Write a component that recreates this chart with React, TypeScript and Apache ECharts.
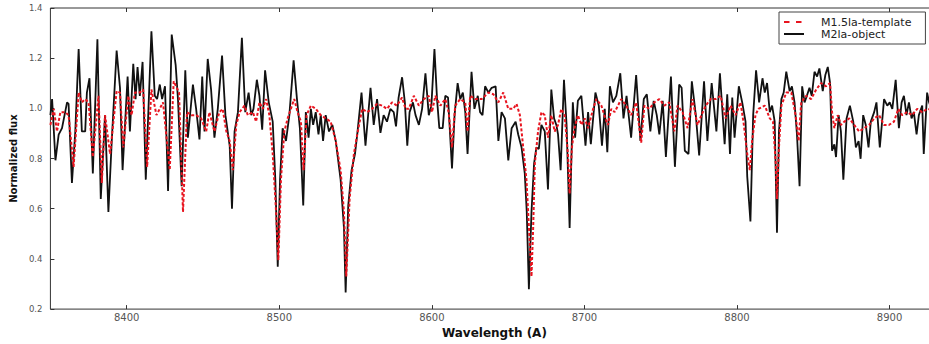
import { useEffect, useRef } from "react";
import * as echarts from "echarts";

// Wavelength (Angstrom) / normalized flux pairs for each spectrum.
const objectSpectrum: [number, number][] = [
  [8350.0, 0.973], [8351.1, 1.037], [8353.3, 0.793], [8355.4, 0.895], [8357.6, 0.921], [8360.9, 1.024],
  [8361.9, 1.018], [8364.1, 0.703], [8366.3, 0.908], [8368.5, 1.236], [8370.6, 0.908], [8372.8, 0.908],
  [8373.9, 1.063], [8375.6, 1.12], [8377.8, 0.741], [8380.8, 1.275], [8383.0, 0.639], [8385.8, 0.973],
  [8388.0, 0.587], [8390.2, 0.87], [8393.4, 1.23], [8395.6, 1.082], [8397.3, 0.754], [8400.6, 1.127],
  [8402.1, 0.908], [8404.3, 1.178], [8405.8, 1.037], [8407.1, 1.165], [8408.6, 1.05], [8410.4, 1.185],
  [8412.5, 0.716], [8416.2, 1.307], [8418.4, 1.05], [8419.9, 1.037], [8421.7, 1.095], [8423.2, 1.037],
  [8425.1, 1.088], [8427.1, 0.671], [8429.5, 1.294], [8432.1, 1.172], [8433.6, 1.037], [8436.0, 0.69],
  [8438.4, 1.152], [8440.1, 0.883], [8443.4, 1.095], [8445.5, 0.998], [8447.7, 0.876], [8449.5, 1.127],
  [8451.0, 0.908], [8453.1, 1.197], [8455.3, 1.075], [8457.5, 0.883], [8459.7, 0.998], [8462.5, 1.21],
  [8464.7, 0.973], [8467.5, 0.851], [8469.0, 0.6], [8470.7, 0.908], [8472.9, 0.985], [8475.5, 1.281],
  [8477.7, 0.985], [8479.9, 1.063], [8481.6, 0.973], [8483.1, 0.998], [8485.3, 1.114], [8487.0, 1.05],
  [8488.8, 0.915], [8490.7, 1.152], [8493.1, 1.024], [8495.7, 0.947], [8497.4, 0.716], [8499.0, 0.369],
  [8500.5, 0.716], [8502.2, 0.921], [8504.4, 0.87], [8506.6, 0.973], [8509.4, 1.191], [8511.6, 1.037],
  [8513.5, 0.921], [8515.7, 0.613], [8517.4, 0.985], [8519.2, 0.883], [8520.7, 0.998], [8522.2, 0.934],
  [8523.9, 0.985], [8525.7, 0.896], [8527.2, 0.973], [8528.7, 0.87], [8530.4, 0.973], [8532.6, 0.908],
  [8534.8, 0.934], [8537.0, 0.87], [8540.2, 0.716], [8542.4, 0.523], [8543.5, 0.266], [8545.2, 0.613],
  [8547.4, 0.754], [8549.6, 0.818], [8551.1, 0.896], [8553.9, 1.063], [8556.5, 0.851], [8559.8, 1.082],
  [8561.9, 0.934], [8564.1, 1.037], [8566.3, 0.902], [8568.4, 0.973], [8570.6, 0.947], [8572.8, 0.998],
  [8575.0, 0.985], [8576.5, 0.928], [8578.2, 1.043], [8580.5, 1.124], [8582.3, 1.024], [8583.9, 0.851],
  [8585.4, 0.985], [8587.6, 1.024], [8589.3, 0.973], [8591.5, 0.934], [8593.6, 0.998], [8595.8, 1.14],
  [8598.0, 0.973], [8599.7, 1.011], [8601.7, 1.236], [8603.4, 1.037], [8604.9, 0.921], [8607.1, 0.921],
  [8608.8, 1.05], [8610.6, 1.043], [8613.2, 0.761], [8614.9, 0.973], [8616.9, 1.101], [8618.6, 1.037],
  [8620.3, 1.063], [8621.9, 0.985], [8623.4, 0.818], [8626.0, 1.146], [8627.9, 0.998], [8630.1, 1.05],
  [8631.6, 0.985], [8633.2, 0.973], [8634.9, 1.088], [8637.1, 1.063], [8639.2, 1.082], [8641.8, 1.088],
  [8643.6, 0.87], [8645.7, 0.985], [8647.9, 0.96], [8650.1, 0.793], [8652.3, 0.921], [8654.9, 0.947],
  [8656.6, 0.896], [8658.8, 0.844], [8660.9, 0.741], [8662.2, 0.587], [8663.6, 0.279], [8665.3, 0.587],
  [8667.0, 0.78], [8668.5, 0.844], [8670.1, 0.838], [8671.8, 0.934], [8674.0, 0.908], [8676.1, 0.677],
  [8678.3, 1.075], [8680.1, 0.96], [8681.6, 0.934], [8682.7, 0.896], [8684.4, 0.754], [8686.6, 1.114],
  [8688.3, 0.934], [8690.3, 0.523], [8692.4, 1.024], [8693.9, 0.883], [8695.7, 1.03], [8698.0, 1.05],
  [8700.7, 0.851], [8702.4, 0.985], [8704.2, 0.857], [8707.2, 1.063], [8709.4, 1.011], [8711.5, 0.851],
  [8713.3, 0.998], [8715.0, 0.825], [8716.7, 1.088], [8718.7, 1.024], [8720.9, 1.05], [8723.5, 1.14],
  [8725.6, 0.96], [8727.6, 1.05], [8730.6, 0.883], [8733.9, 1.133], [8736.7, 0.87], [8738.9, 1.037],
  [8740.9, 1.056], [8743.2, 0.908], [8745.4, 1.03], [8747.4, 0.973], [8749.1, 0.896], [8751.3, 1.03],
  [8753.4, 0.806], [8756.7, 1.127], [8759.3, 0.767], [8762.1, 1.095], [8763.7, 1.082], [8765.8, 0.831],
  [8768.2, 0.818], [8770.4, 1.108], [8773.0, 0.973], [8775.2, 0.812], [8778.4, 1.108], [8780.6, 0.87],
  [8783.4, 1.101], [8786.5, 0.908], [8788.8, 1.14], [8791.9, 0.857], [8793.6, 1.056], [8795.4, 0.818],
  [8796.9, 1.043], [8798.4, 0.883], [8801.2, 1.088], [8803.4, 1.024], [8805.6, 0.947], [8806.7, 0.729],
  [8808.8, 0.549], [8810.6, 0.973], [8812.5, 1.152], [8814.5, 1.024], [8816.7, 1.12], [8818.2, 1.063],
  [8819.7, 1.101], [8821.5, 0.985], [8823.0, 1.011], [8824.7, 0.947], [8826.2, 0.504], [8827.5, 0.908],
  [8829.1, 1.037], [8830.6, 1.063], [8832.3, 1.146], [8834.5, 1.069], [8836.0, 1.088], [8837.7, 1.024],
  [8839.3, 0.896], [8841.0, 0.69], [8842.7, 1.088], [8844.3, 1.024], [8845.8, 1.05], [8847.5, 1.082],
  [8849.0, 1.05], [8850.8, 1.146], [8852.5, 1.127], [8854.0, 1.159], [8856.2, 1.069], [8857.9, 1.133],
  [8859.5, 1.165], [8861.0, 1.101], [8862.3, 0.831], [8863.8, 0.857], [8864.9, 0.806], [8866.6, 0.973],
  [8868.1, 0.908], [8869.7, 0.716], [8871.8, 0.96], [8874.0, 1.011], [8876.2, 0.947], [8877.9, 0.844],
  [8879.7, 0.87], [8881.0, 0.799], [8882.7, 0.973], [8884.4, 0.934], [8886.2, 0.844], [8887.7, 0.947],
  [8889.9, 0.985], [8891.4, 1.024], [8893.6, 0.844], [8896.4, 1.037], [8898.5, 1.011], [8900.1, 1.024],
  [8901.8, 0.998], [8904.0, 1.114], [8906.1, 0.921], [8907.9, 1.024], [8909.4, 1.05], [8911.1, 0.973],
  [8912.7, 1.024], [8914.4, 0.96], [8915.9, 0.985], [8917.7, 0.896], [8919.2, 0.973], [8921.4, 1.011],
  [8922.4, 0.818], [8924.6, 1.063], [8925.9, 1.024], [8928.5, 0.98], [8932.0, 0.96],
];

const templateSpectrum: [number, number][] = [
  [8350.0, 0.934], [8352.2, 0.998], [8354.3, 0.908], [8356.5, 0.985], [8359.8, 0.985], [8361.9, 0.973],
  [8365.2, 0.767], [8368.5, 1.063], [8370.6, 1.024], [8372.8, 1.037], [8375.0, 1.024], [8377.8, 0.806],
  [8381.5, 1.05], [8383.7, 0.703], [8385.8, 0.973], [8389.1, 0.818], [8393.4, 1.069], [8395.6, 1.063],
  [8397.8, 0.844], [8401.0, 1.05], [8403.2, 0.973], [8405.4, 1.063], [8408.6, 1.063], [8410.8, 1.075],
  [8413.4, 0.767], [8416.2, 1.075], [8419.5, 0.973], [8423.8, 1.024], [8428.2, 0.754], [8430.8, 1.108],
  [8434.3, 1.063], [8436.9, 0.587], [8439.5, 0.985], [8442.3, 0.973], [8445.5, 0.973], [8448.8, 0.96],
  [8452.1, 0.908], [8454.2, 0.985], [8457.5, 0.908], [8460.7, 0.985], [8462.9, 0.998], [8465.3, 0.908],
  [8467.5, 0.87], [8469.6, 0.754], [8471.8, 0.934], [8474.0, 0.985], [8477.2, 1.011], [8479.4, 0.973],
  [8482.7, 0.985], [8484.8, 0.947], [8487.0, 1.024], [8489.2, 0.998], [8491.4, 1.037], [8493.5, 0.973],
  [8495.7, 0.818], [8497.9, 0.587], [8499.4, 0.395], [8501.1, 0.716], [8503.3, 0.908], [8505.5, 0.96],
  [8507.6, 0.998], [8509.8, 1.037], [8512.0, 0.985], [8514.2, 0.947], [8515.9, 0.754], [8517.9, 0.973],
  [8520.7, 1.011], [8523.9, 0.998], [8527.2, 0.973], [8530.4, 0.96], [8533.7, 0.947], [8537.0, 0.87],
  [8540.2, 0.754], [8542.4, 0.587], [8543.9, 0.33], [8546.1, 0.639], [8548.9, 0.818], [8551.1, 0.896],
  [8554.3, 0.998], [8557.6, 0.985], [8560.8, 0.998], [8564.1, 1.018], [8567.4, 1.011], [8570.6, 0.998],
  [8573.9, 1.024], [8577.1, 1.011], [8580.4, 1.043], [8582.8, 0.998], [8584.9, 0.998], [8588.2, 1.05],
  [8591.5, 1.011], [8594.7, 1.037], [8598.0, 1.05], [8600.1, 0.985], [8602.3, 1.05], [8605.6, 1.011],
  [8608.8, 1.037], [8611.0, 0.985], [8613.2, 0.844], [8615.3, 1.011], [8618.6, 1.037], [8621.9, 1.024],
  [8623.4, 0.908], [8625.1, 1.05], [8628.4, 1.037], [8632.7, 1.037], [8637.1, 1.063], [8640.3, 1.056],
  [8643.6, 1.024], [8646.8, 1.063], [8650.1, 0.998], [8653.3, 0.998], [8655.5, 1.018], [8657.7, 0.973],
  [8659.9, 0.844], [8662.0, 0.716], [8664.2, 0.459], [8665.3, 0.33], [8666.4, 0.523], [8667.5, 0.78],
  [8669.6, 0.908], [8671.8, 0.985], [8674.0, 0.973], [8676.1, 0.883], [8678.3, 0.973], [8680.5, 0.908],
  [8682.7, 0.934], [8684.8, 0.998], [8687.0, 0.973], [8689.2, 0.818], [8690.3, 0.66], [8691.8, 0.844],
  [8693.5, 0.921], [8695.7, 0.973], [8698.1, 0.934], [8700.2, 0.96], [8702.4, 0.921], [8705.7, 0.998],
  [8707.8, 1.037], [8711.1, 1.011], [8713.7, 0.96], [8715.4, 0.934], [8717.6, 0.998], [8719.8, 0.985],
  [8722.0, 1.011], [8724.1, 1.037], [8727.4, 1.011], [8730.6, 0.973], [8733.9, 1.024], [8737.2, 0.863],
  [8739.3, 1.011], [8742.6, 0.998], [8745.8, 1.024], [8749.1, 1.037], [8752.4, 1.011], [8755.6, 1.024],
  [8758.9, 0.908], [8761.0, 1.011], [8764.3, 0.985], [8767.6, 0.921], [8770.8, 1.037], [8774.1, 0.934],
  [8776.7, 0.973], [8779.5, 1.011], [8782.8, 1.037], [8786.0, 1.037], [8789.3, 1.05], [8792.5, 0.96],
  [8795.8, 1.011], [8799.1, 0.973], [8802.3, 1.024], [8804.5, 0.934], [8806.7, 0.818], [8808.4, 0.754],
  [8809.9, 0.87], [8812.1, 0.973], [8814.0, 0.998], [8818.2, 1.011], [8821.5, 0.96], [8823.6, 0.947],
  [8825.4, 0.78], [8826.2, 0.639], [8827.5, 0.844], [8829.1, 1.011], [8832.3, 1.063], [8835.6, 1.063],
  [8838.4, 0.973], [8840.4, 0.87], [8842.1, 1.024], [8845.3, 1.05], [8848.6, 1.037], [8851.9, 1.075],
  [8855.1, 1.101], [8858.4, 1.088], [8861.0, 1.101], [8862.3, 0.985], [8863.8, 0.921], [8866.0, 0.973],
  [8868.1, 0.934], [8870.3, 0.947], [8873.6, 0.96], [8876.8, 0.934], [8880.1, 0.908], [8883.3, 0.921],
  [8886.6, 0.934], [8889.9, 0.96], [8893.1, 0.973], [8896.4, 0.934], [8899.6, 0.934], [8902.9, 0.947],
  [8905.7, 0.998], [8908.3, 0.973], [8911.6, 0.985], [8914.8, 0.973], [8918.1, 0.998], [8921.4, 0.985],
  [8924.6, 0.998], [8932.0, 0.99],
];

const wavelengthTicks = [8400, 8500, 8600, 8700, 8800, 8900];
const seriesNames = ["M1.5la-template", "M2la-object"];

const FONT = '"DejaVu Sans", Verdana, sans-serif';

export default function App() {
  const ref = useRef<HTMLDivElement>(null);

  useEffect(() => {
    if (!ref.current) return;
    const chart = echarts.init(ref.current, undefined, { renderer: "svg" });
    chart.setOption({
      animation: false,
      backgroundColor: "#ffffff",
      textStyle: { fontFamily: FONT },
      grid: {
        left: 45,
        top: 8,
        right: 61.6,
        bottom: 23.5,
        show: true,
        borderColor: "#333",
        borderWidth: 1,
        backgroundColor: "transparent",
      },
      legend: {
        data: [
          { name: seriesNames[0], lineStyle: { type: [5.5, 6.5], width: 2 } },
          { name: seriesNames[1] },
        ],
        orient: "vertical",
        left: 779,
        top: 12,
        itemWidth: 20,
        itemHeight: 8,
        itemGap: 0,
        padding: [4, 14, 4, 4],
        borderColor: "#444",
        borderWidth: 1,
        selectedMode: false,
        itemStyle: { opacity: 0 },
        textStyle: {
          fontFamily: FONT,
          fontSize: 11,
          color: "#222",
          lineHeight: 12,
          padding: [0, 0, 0, 12],
        },
      },
      xAxis: [
        {
          type: "value",
          position: "bottom",
          min: 8350,
          max: 8932,
          axisLine: { show: false },
          splitLine: { show: false },
          axisTick: {
            show: true,
            inside: true,
            length: 4,
            customValues: wavelengthTicks,
            lineStyle: { color: "#333" },
          },
          axisLabel: {
            customValues: wavelengthTicks,
            formatter: (v: number) => String(Math.round(v)),
            fontSize: 10,
            color: "#555",
            margin: 3,
            fontFamily: FONT,
          },
          name: "Wavelength (A)",
          nameLocation: "middle",
          nameGap: 7,
          nameTextStyle: { fontWeight: "bold", fontSize: 12, color: "#111", fontFamily: FONT },
        },
        {
          type: "value",
          position: "top",
          min: 8350,
          max: 8932,
          axisLine: { show: false },
          splitLine: { show: false },
          axisTick: {
            show: true,
            inside: true,
            length: 4,
            customValues: wavelengthTicks,
            lineStyle: { color: "#333" },
          },
          axisLabel: { show: false, customValues: wavelengthTicks },
        },
      ],
      yAxis: {
        type: "value",
        min: 0.2,
        max: 1.4,
        interval: 0.2,
        axisLine: { show: false },
        splitLine: { show: false },
        axisTick: { show: true, inside: true, length: 4, lineStyle: { color: "#333" } },
        axisLabel: {
          formatter: (v: number) => v.toFixed(1),
          fontSize: 8.5,
          color: "#555",
          margin: 8,
          fontFamily: FONT,
        },
        name: "Normalized flux",
        nameLocation: "middle",
        nameGap: 23,
        nameTextStyle: { fontWeight: "bold", fontSize: 10, color: "#111", fontFamily: FONT },
      },
      series: [
        {
          name: seriesNames[0],
          type: "line",
          xAxisIndex: 0,
          data: templateSpectrum,
          symbol: "none",
          z: 3,
          lineStyle: { color: "#e8141f", width: 2, type: [3, 2] },
          itemStyle: { color: "#e8141f" },
        },
        {
          name: seriesNames[1],
          type: "line",
          xAxisIndex: 0,
          data: objectSpectrum,
          symbol: "none",
          z: 2,
          lineStyle: { color: "#111", width: 1.8 },
          itemStyle: { color: "#111" },
        },
      ],
    });
    return () => chart.dispose();
  }, []);

  return (
    <div
      style={{
        position: "fixed",
        left: 0,
        top: 0,
        width: 929,
        height: 344,
        overflow: "hidden",
        background: "#fff",
      }}
    >
      <div ref={ref} style={{ width: 1000, height: 344 }} />
    </div>
  );
}
